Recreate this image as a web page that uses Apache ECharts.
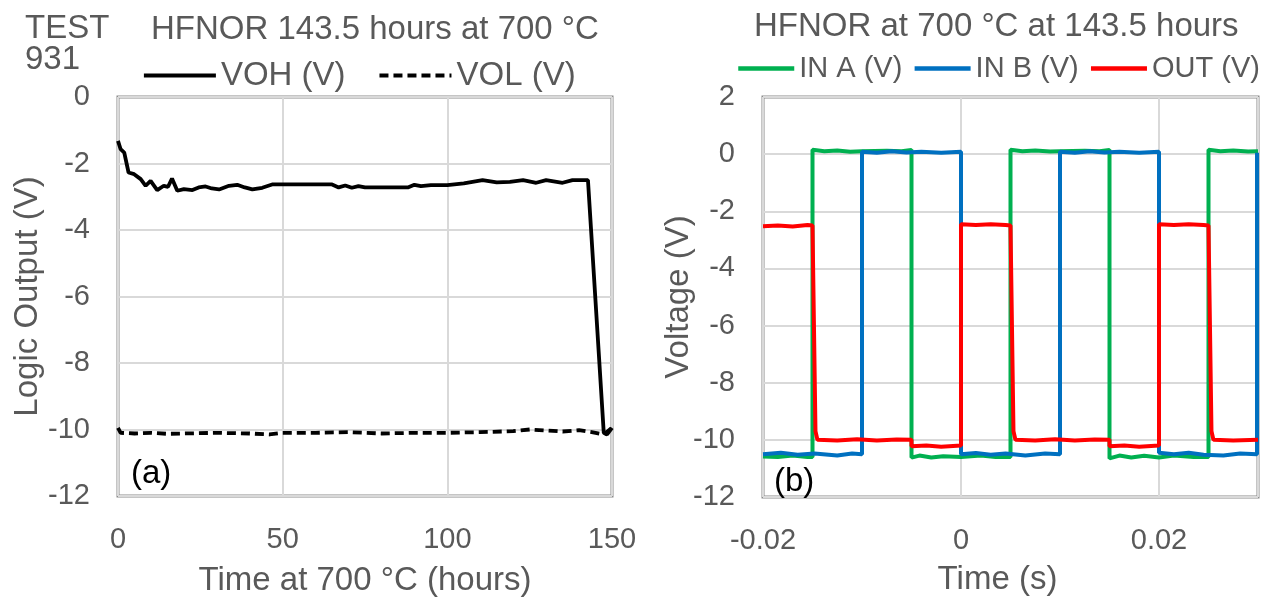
<!DOCTYPE html>
<html>
<head>
<meta charset="utf-8">
<script src="https://cdn.jsdelivr.net/npm/echarts@6/dist/echarts.min.js"></script>
<style>
  html, body { margin: 0; padding: 0; background: #fff; }
  #chart { width: 1269px; height: 603px; }
</style>
</head>
<body>
<div id="chart"></div>
<script>
// (a) logic output vs. time at 700 C  -> [hours, volts]
var vohData = [
  [0, -1.32], [0.8, -1.57], [1.9, -1.67], [3.2, -2.27], [4.9, -2.32], [6.9, -2.47],
  [8.4, -2.67], [9.9, -2.52], [11.9, -2.8], [13.9, -2.67], [15.2, -2.7], [16.4, -2.45],
  [18, -2.82], [20, -2.77], [22.6, -2.8], [24.5, -2.72], [26.6, -2.69], [28.5, -2.75],
  [30.7, -2.78], [33.7, -2.67], [36.2, -2.64], [38.5, -2.72], [40.8, -2.78], [43.8, -2.73],
  [46.8, -2.63], [58, -2.63], [65, -2.63], [67, -2.72], [69, -2.66], [71, -2.73],
  [73, -2.68], [75, -2.72], [88, -2.72], [90, -2.64], [92, -2.68], [95, -2.65],
  [100, -2.65], [105, -2.6], [110.7, -2.5], [115, -2.57], [119, -2.55], [123, -2.5],
  [127, -2.58], [130, -2.5], [135, -2.58], [138, -2.5], [142.7, -2.5], [147.5, -10.1],
  [148.5, -10.15], [150, -9.95]
];
var volData = [
  [0, -9.95], [0.8, -10.1], [5, -10.12], [10, -10.1], [15, -10.13], [20, -10.12],
  [30, -10.1], [40, -10.12], [46, -10.15], [50, -10.1], [60, -10.1], [70, -10.08],
  [80, -10.12], [90, -10.1], [100, -10.1], [110, -10.08], [120, -10.05], [125, -10.0],
  [130, -10.03], [135, -10.06], [140, -10.02], [145, -10.1], [147.5, -10.15], [150, -9.95]
];

// (b) waveforms at 143.5 hours -> [seconds, volts]
var inAData = [
  [-0.02, -10.58], [-0.0185, -10.6], [-0.017, -10.55], [-0.0155, -10.6], [-0.015, -10.6],
  [-0.015, 0.15], [-0.0138, 0.1], [-0.0125, 0.13], [-0.0112, 0.08], [-0.01, 0.1],
  [-0.0075, 0.12], [-0.006, 0.1], [-0.005, 0.15],
  [-0.005, -10.62], [-0.0042, -10.55], [-0.003, -10.62], [-0.0018, -10.57], [0, -10.6],
  [0.002, -10.55], [0.0035, -10.6], [0.005, -10.6],
  [0.005, 0.15], [0.0062, 0.1], [0.0075, 0.13], [0.009, 0.09], [0.01, 0.1],
  [0.0125, 0.12], [0.014, 0.1], [0.015, 0.15],
  [0.015, -10.65], [0.016, -10.55], [0.0172, -10.62], [0.0185, -10.56], [0.02, -10.62],
  [0.0215, -10.55], [0.0235, -10.6], [0.025, -10.6],
  [0.025, 0.15], [0.0262, 0.1], [0.0275, 0.13], [0.029, 0.09], [0.03, 0.1]
];
var inBData = [
  [-0.02, -10.5], [-0.0182, -10.45], [-0.0165, -10.52], [-0.0148, -10.48], [-0.0125, -10.55],
  [-0.011, -10.48], [-0.01, -10.5],
  [-0.01, 0.08], [-0.0085, 0.05], [-0.007, 0.1], [-0.0055, 0.06], [-0.004, 0.08],
  [-0.002, 0.05], [0, 0.08],
  [0, -10.5], [0.0015, -10.46], [0.003, -10.52], [0.0045, -10.48], [0.0065, -10.55],
  [0.0085, -10.48], [0.01, -10.5],
  [0.01, 0.08], [0.0115, 0.05], [0.013, 0.1], [0.0145, 0.06], [0.016, 0.08],
  [0.018, 0.05], [0.02, 0.08],
  [0.02, -10.45], [0.0215, -10.5], [0.023, -10.45], [0.0245, -10.52], [0.0265, -10.55],
  [0.0282, -10.48], [0.0299, -10.5],
  [0.0299, 0.05]
];
var outData = [
  [-0.02, -2.52], [-0.0185, -2.5], [-0.017, -2.53], [-0.0155, -2.48], [-0.015, -2.5],
  [-0.0147, -9.7], [-0.0145, -10.0], [-0.0125, -10.02], [-0.0105, -9.98], [-0.0085, -10.02],
  [-0.0065, -9.99], [-0.005, -10.0],
  [-0.005, -10.22], [-0.0035, -10.2], [-0.002, -10.24], [0, -10.2],
  [0, -2.45], [0.0015, -2.48], [0.003, -2.45], [0.0045, -2.48], [0.005, -2.5],
  [0.0053, -9.7], [0.0055, -10.0], [0.0075, -10.02], [0.0095, -9.98], [0.0115, -10.02],
  [0.0135, -9.99], [0.015, -10.0],
  [0.015, -10.22], [0.0165, -10.2], [0.018, -10.24], [0.02, -10.2],
  [0.02, -2.45], [0.0215, -2.48], [0.023, -2.45], [0.0245, -2.48], [0.025, -2.5],
  [0.0253, -9.7], [0.0255, -10.0], [0.0275, -10.02], [0.03, -10.0]
];

var FONT = "'Liberation Sans', Arial, sans-serif";
var TXT = '#595959';
var BORDER = '#8c8c8c';
var GRID = '#d9d9d9';

var chart = echarts.init(document.getElementById('chart'));

function xAxisOf(idx, min, max, interval, name, nameGap, namePad) {
  return {
    gridIndex: idx, type: 'value', min: min, max: max, interval: interval,
    name: name, nameLocation: 'middle', nameGap: nameGap,
    nameTextStyle: { fontFamily: FONT, fontSize: 33, color: TXT, padding: namePad },
    axisLine: { show: false }, axisTick: { show: false },
    axisLabel: { fontFamily: FONT, fontSize: 29, color: TXT, margin: 29, showMaxLabel: idx === 0 },
    splitLine: { show: true, lineStyle: { color: GRID, width: 2 } }
  };
}
function yAxisOf(idx, min, max, name, nameGap) {
  return {
    gridIndex: idx, type: 'value', min: min, max: max, interval: 2,
    name: name, nameLocation: 'middle', nameGap: nameGap, nameMoveOverlap: false,
    nameTextStyle: { fontFamily: FONT, fontSize: 33, color: TXT },
    axisLine: { show: false }, axisTick: { show: false },
    axisLabel: { fontFamily: FONT, fontSize: 29, color: TXT, margin: 28 },
    splitLine: { show: true, lineStyle: { color: GRID, width: 2 } }
  };
}

var option = {
  animation: false,
  backgroundColor: '#fff',
  title: [
    { text: 'TEST\n931', left: 20, top: 8,
      textStyle: { fontFamily: FONT, fontSize: 33, fontWeight: 'normal', color: TXT, lineHeight: 31 } },
    { text: 'HFNOR 143.5 hours at 700 °C', left: 146, top: 8,
      textStyle: { fontFamily: FONT, fontSize: 33, fontWeight: 'normal', color: TXT } },
    { text: 'HFNOR at 700 °C at 143.5 hours', left: 749, top: 5,
      textStyle: { fontFamily: FONT, fontSize: 33, fontWeight: 'normal', color: TXT } },
    { text: '(a)', left: 126, top: 452,
      textStyle: { fontFamily: FONT, fontSize: 33, fontWeight: 'normal', color: '#000' } },
    { text: '(b)', left: 769, top: 460,
      textStyle: { fontFamily: FONT, fontSize: 33, fontWeight: 'normal', color: '#000' } }
  ],
  legend: [
    { data: ['VOH (V)', 'VOL (V)'], left: 137, top: 54, width: 500, itemWidth: 72, itemHeight: 14, itemGap: 32,
      itemStyle: { opacity: 0 }, lineStyle: { width: 3.8 },
      textStyle: { fontFamily: FONT, fontSize: 33, color: TXT } },
    { data: ['IN A (V)', 'IN B (V)', 'OUT (V)'], left: 731, top: 49, width: 560, itemWidth: 56, itemHeight: 14, itemGap: 10,
      itemStyle: { opacity: 0 }, lineStyle: { width: 4.5 },
      textStyle: { fontFamily: FONT, fontSize: 29, color: TXT } }
  ],
  grid: [
    { left: 118, top: 97, width: 494, height: 399, show: true, borderColor: BORDER, borderWidth: 3,
      outerBoundsMode: 'none' },
    { left: 763, top: 97, width: 495, height: 400, show: true, borderColor: BORDER, borderWidth: 3,
      outerBoundsMode: 'none' }
  ],
  xAxis: [
    xAxisOf(0, 0, 150, 50, 'Time at 700 °C (hours)', 68, 0),
    xAxisOf(1, -0.02, 0.03, 0.02, 'Time (s)', 66, [0, 26, 0, 0])
  ],
  yAxis: [
    yAxisOf(0, -12, 0, 'Logic Output (V)', 74),
    yAxisOf(1, -12, 2, 'Voltage (V)', 68)
  ],
  series: [
    { name: 'VOH (V)', type: 'line', xAxisIndex: 0, yAxisIndex: 0, data: vohData,
      showSymbol: false, symbol: 'none', color: '#000', lineStyle: { color: '#000', width: 3.8 } },
    { name: 'VOL (V)', type: 'line', xAxisIndex: 0, yAxisIndex: 0, data: volData,
      showSymbol: false, symbol: 'none', color: '#000', lineStyle: { color: '#000', width: 3.8, type: [9, 5] } },
    { name: 'IN A (V)', type: 'line', xAxisIndex: 1, yAxisIndex: 1, data: inAData,
      showSymbol: false, symbol: 'none', color: '#00b050', lineStyle: { color: '#00b050', width: 4 } },
    { name: 'IN B (V)', type: 'line', xAxisIndex: 1, yAxisIndex: 1, data: inBData,
      showSymbol: false, symbol: 'none', color: '#0070c0', lineStyle: { color: '#0070c0', width: 4 } },
    { name: 'OUT (V)', type: 'line', xAxisIndex: 1, yAxisIndex: 1, data: outData,
      showSymbol: false, symbol: 'none', color: '#ff0000', lineStyle: { color: '#ff0000', width: 4 } }
  ]
};
chart.setOption(option);
</script>
</body>
</html>
